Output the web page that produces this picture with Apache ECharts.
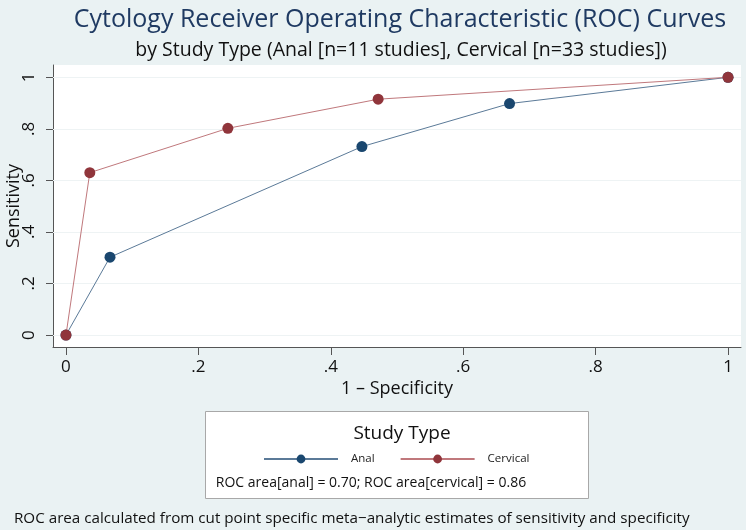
<!DOCTYPE html>
<html>
<head>
<meta charset="utf-8">
<script src="https://cdn.jsdelivr.net/npm/echarts@6/dist/echarts.min.js"></script>
<style>
html,body{margin:0;padding:0;background:#eaf2f3;}
#main{width:746px;height:530px;}
</style>
</head>
<body>
<div id="main"></div>
<script>
// Data (1 - specificity, sensitivity)
const anal = [[0, 0], [0.0665, 0.302], [0.447, 0.731], [0.670, 0.898], [1, 1]];
const cervical = [[0, 0], [0.036, 0.630], [0.2445, 0.802], [0.4715, 0.915], [1, 1]];
const seriesNames = ['Anal', 'Cervical'];
const xTicks = [0, 0.2, 0.4, 0.6, 0.8, 1];
const yTicks = [0, 0.2, 0.4, 0.6, 0.8, 1];
const tickLabel = v => (v === 0 ? '0' : v === 1 ? '1' : String(v).replace(/^0/, ''));

const FONT = '"Open Sans", sans-serif';
const chart = echarts.init(document.getElementById('main'), null, {renderer: 'canvas'});

chart.setOption({
  backgroundColor: '#eaf2f3',
  animation: false,
  textStyle: {fontFamily: FONT},
  title: [
    {text: 'Cytology Receiver Operating Characteristic (ROC) Curves', left: 395, top: 2, textAlign: 'center',
     textStyle: {fontFamily: FONT, fontSize: 25, fontWeight: 'normal', color: '#1f3a62'}},
    {text: 'by Study Type (Anal [n=11 studies], Cervical [n=33 studies])', left: 396, top: 35, textAlign: 'center',
     textStyle: {fontFamily: FONT, fontSize: 19.5, fontWeight: 'normal', color: '#111'}},
    {text: 'Study Type', left: 397, top: 419, textAlign: 'center',
     textStyle: {fontFamily: FONT, fontSize: 19, fontWeight: 'normal', color: '#111'}},
    {text: 'ROC area[anal] = 0.70; ROC area[cervical] = 0.86', left: 366, top: 471, textAlign: 'center',
     textStyle: {fontFamily: FONT, fontSize: 14, fontWeight: 'normal', color: '#111'}},
    {text: 'ROC area calculated from cut point specific meta\u2212analytic estimates of sensitivity and specificity', left: 9, top: 506,
     textStyle: {fontFamily: FONT, fontSize: 15.2, fontWeight: 'normal', color: '#111'}}
  ],
  graphic: [
    {type: 'rect', left: 205, top: 411, shape: {width: 383, height: 87}, z: -1,
     style: {fill: '#fff', stroke: '#a8a8a8', lineWidth: 1}}
  ],
  legend: {
    data: seriesNames,
    left: 263, top: 453, padding: 0,
    itemWidth: 74, itemHeight: 11, itemGap: 25,
    textStyle: {fontFamily: FONT, fontSize: 11.5, color: '#222', padding: [0, 0, 0, 8]}
  },
  grid: {left: 53, right: 5, top: 65, bottom: 183, show: true, backgroundColor: '#fff', borderWidth: 0,
         containLabel: false, outerBoundsMode: 'none'},
  xAxis: {
    type: 'value', min: -0.0196, max: 1.0196,
    name: '1 \u2013 Specificity', nameLocation: 'middle', nameGap: 33, nameMoveOverlap: false,
    nameTextStyle: {fontFamily: FONT, fontSize: 18, color: '#111'},
    axisLine: {show: true, onZero: false, lineStyle: {color: '#555', width: 1}},
    axisTick: {show: true, length: 8, customValues: xTicks, lineStyle: {color: '#555'}},
    axisLabel: {customValues: xTicks, formatter: tickLabel, margin: 12, fontFamily: FONT, fontSize: 17, color: '#111'},
    splitLine: {show: false}
  },
  yAxis: {
    type: 'value', min: -0.0465, max: 1.0477,
    name: 'Sensitivity', nameLocation: 'middle', nameGap: 30, nameRotate: 90, nameMoveOverlap: false,
    nameTextStyle: {fontFamily: FONT, fontSize: 18, color: '#111'},
    axisLine: {show: true, onZero: false, lineStyle: {color: '#555', width: 1}},
    axisTick: {show: true, length: 7, customValues: yTicks, lineStyle: {color: '#555'}},
    axisLabel: {customValues: yTicks, formatter: tickLabel, rotate: 90, margin: 15, fontFamily: FONT, fontSize: 17, color: '#111'},
    splitLine: {show: false}
  },
  series: [
    {
      name: 'Anal', type: 'line', data: anal,
      symbol: 'circle', symbolSize: 11,
      itemStyle: {color: '#1a476f'},
      lineStyle: {color: '#5b7a98', width: 1},
      markLine: {
        silent: true, symbol: 'none', label: {show: false}, z: 1,
        lineStyle: {color: '#eef3f4', width: 1, type: 'solid'},
        data: yTicks.map(v => ({yAxis: v}))
      },
      z: 2
    },
    {
      name: 'Cervical', type: 'line', data: cervical,
      symbol: 'circle', symbolSize: 11,
      itemStyle: {color: '#90353b'},
      lineStyle: {color: '#c0787c', width: 1},
      z: 3
    }
  ]
});
</script>
</body>
</html>
